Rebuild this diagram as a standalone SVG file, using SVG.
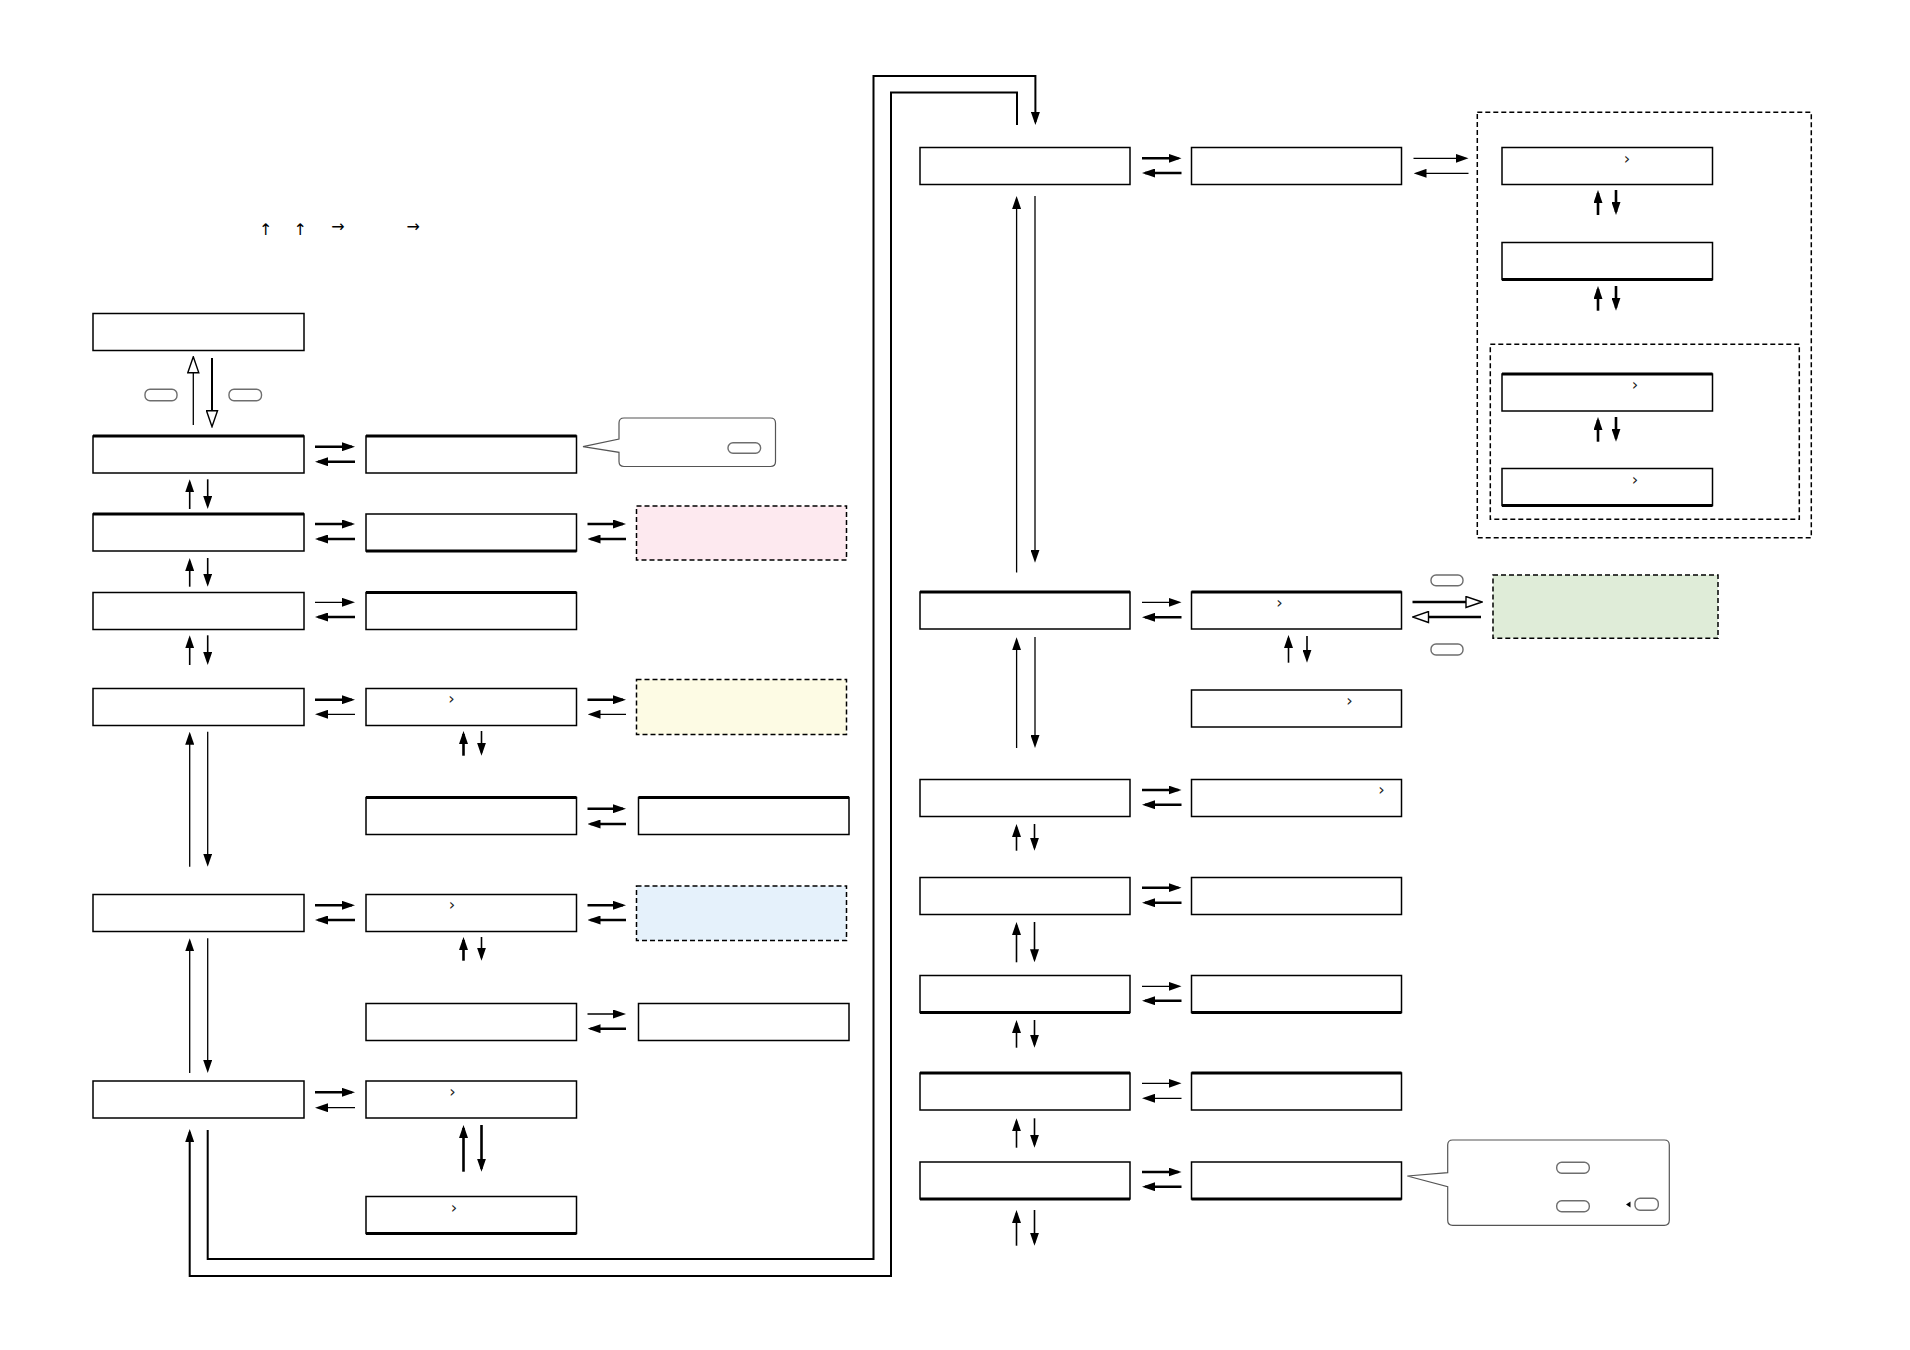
<svg xmlns="http://www.w3.org/2000/svg" width="1910" height="1350" viewBox="0 0 1910 1350">
<style>
.box{fill:#fff;stroke:#000;stroke-width:1.5}
.edge{stroke:#000;stroke-width:3}
.dash{stroke:#000;stroke-width:1.5;stroke-dasharray:5 3}
.k{stroke:#000;stroke-width:2.6;fill:none;marker-end:url(#ah)}
.t{stroke:#000;stroke-width:1.3;fill:none;marker-end:url(#ah)}
.m{stroke:#000;stroke-width:1.6;fill:none;marker-end:url(#ah)}
.loop{stroke:#000;stroke-width:2;fill:none}
.pill{fill:#fff;stroke:#6e6e6e;stroke-width:1.4}
.call{fill:#fff;stroke:#555;stroke-width:1.2}
.chev{font-family:"DejaVu Sans",sans-serif;font-size:16px;fill:#222;text-anchor:middle}
.sym{font-family:"DejaVu Sans",sans-serif;font-size:16px;fill:#000;text-anchor:middle}
</style>
<defs>
<marker id="ah" viewBox="0 0 13 9" refX="10" refY="4.5" markerWidth="13" markerHeight="9" markerUnits="userSpaceOnUse" orient="auto"><path d="M0,0L13,4.5L0,9z" fill="#000"/></marker>
<marker id="hh" viewBox="-1 -1 18 13" refX="1" refY="5.5" markerWidth="18" markerHeight="13" markerUnits="userSpaceOnUse" orient="auto"><path d="M0,0L16,5.5L0,11z" fill="#fff" stroke="#000" stroke-width="1.4"/></marker>
</defs>
<rect width="1910" height="1350" fill="#fff"/>

<g id="legend">
<text class="sym" x="265.7" y="235">↑</text>
<text class="sym" x="300.3" y="235">↑</text>
<text class="sym" x="338" y="232">→</text>
<text class="sym" x="413.3" y="232">→</text>
</g>

<!-- left column -->
<g id="T"><rect class="box" x="93" y="313.5" width="211" height="37"/></g>
<g id="A"><rect class="box" x="93" y="436" width="211" height="37"/><line class="edge" x1="93" y1="436" x2="304" y2="436"/></g>
<g id="B"><rect class="box" x="93" y="514" width="211" height="37"/><line class="edge" x1="93" y1="514" x2="304" y2="514"/></g>
<g id="C"><rect class="box" x="93" y="592.5" width="211" height="37"/></g>
<g id="D"><rect class="box" x="93" y="688.5" width="211" height="37"/></g>
<g id="E"><rect class="box" x="93" y="894.5" width="211" height="37"/></g>
<g id="F"><rect class="box" x="93" y="1081" width="211" height="37"/></g>

<!-- second column -->
<g id="A2"><rect class="box" x="366" y="436" width="210.5" height="37"/><line class="edge" x1="366" y1="436" x2="576.5" y2="436"/></g>
<g id="B2"><rect class="box" x="366" y="514" width="210.5" height="37"/><line class="edge" x1="366" y1="551" x2="576.5" y2="551"/></g>
<g id="C2"><rect class="box" x="366" y="592.5" width="210.5" height="37"/><line class="edge" x1="366" y1="592.5" x2="576.5" y2="592.5"/></g>
<g id="D2"><rect class="box" x="366" y="688.5" width="210.5" height="37"/><text class="chev" x="451.5" y="704">›</text></g>
<g id="D3"><rect class="box" x="366" y="797.5" width="210.5" height="37"/><line class="edge" x1="366" y1="797.5" x2="576.5" y2="797.5"/></g>
<g id="E2"><rect class="box" x="366" y="894.5" width="210.5" height="37"/><text class="chev" x="452" y="910">›</text></g>
<g id="E3"><rect class="box" x="366" y="1003.5" width="210.5" height="37"/></g>
<g id="F2"><rect class="box" x="366" y="1081" width="210.5" height="37"/><text class="chev" x="452.5" y="1097">›</text></g>
<g id="F3"><rect class="box" x="366" y="1196.5" width="210.5" height="37"/><line class="edge" x1="366" y1="1233.5" x2="576.5" y2="1233.5"/><text class="chev" x="454" y="1212.5">›</text></g>

<!-- third column -->
<g id="callout1">
<path class="call" d="M624,418H770.5Q775.5,418 775.5,423V461.5Q775.5,466.5 770.5,466.5H624Q619,466.5 619,461.5V452.3L583,446.7L619,439V423Q619,418 624,418Z"/>
<rect class="pill" x="728" y="442.7" width="32.6" height="10.6" rx="5"/>
</g>
<g id="pink"><rect class="dash" x="636.5" y="506" width="210" height="54" fill="#fde9ef"/></g>
<g id="yellow"><rect class="dash" x="636.5" y="679.5" width="210" height="55" fill="#fdfbe4"/></g>
<g id="D4"><rect class="box" x="638.5" y="797.5" width="210.5" height="37"/><line class="edge" x1="638.5" y1="797.5" x2="849" y2="797.5"/></g>
<g id="blue"><rect class="dash" x="636.5" y="886" width="210" height="54.5" fill="#e5f1fb"/></g>
<g id="E4"><rect class="box" x="638.5" y="1003.5" width="210.5" height="37"/></g>

<!-- right main column -->
<g id="R1"><rect class="box" x="920" y="147.5" width="210" height="37"/></g>
<g id="R3"><rect class="box" x="920" y="592" width="210" height="37"/><line class="edge" x1="920" y1="592" x2="1130" y2="592"/></g>
<g id="R6"><rect class="box" x="920" y="779.5" width="210" height="37"/></g>
<g id="R8"><rect class="box" x="920" y="877.5" width="210" height="37"/></g>
<g id="R9"><rect class="box" x="920" y="975.5" width="210" height="37"/><line class="edge" x1="920" y1="1012.5" x2="1130" y2="1012.5"/></g>
<g id="R11"><rect class="box" x="920" y="1073" width="210" height="37"/><line class="edge" x1="920" y1="1073" x2="1130" y2="1073"/></g>
<g id="R13"><rect class="box" x="920" y="1162" width="210" height="37"/><line class="edge" x1="920" y1="1199" x2="1130" y2="1199"/></g>

<g id="R2"><rect class="box" x="1191.5" y="147.5" width="210" height="37"/></g>
<g id="R4"><rect class="box" x="1191.5" y="592" width="210" height="37"/><line class="edge" x1="1191.5" y1="592" x2="1401.5" y2="592"/><text class="chev" x="1279.5" y="608">›</text></g>
<g id="R5"><rect class="box" x="1191.5" y="690" width="210" height="37"/><text class="chev" x="1349.5" y="705.5">›</text></g>
<g id="R7"><rect class="box" x="1191.5" y="779.5" width="210" height="37"/><text class="chev" x="1381.5" y="795">›</text></g>
<g id="R8b"><rect class="box" x="1191.5" y="877.5" width="210" height="37"/></g>
<g id="R10"><rect class="box" x="1191.5" y="975.5" width="210" height="37"/><line class="edge" x1="1191.5" y1="1012.5" x2="1401.5" y2="1012.5"/></g>
<g id="R12"><rect class="box" x="1191.5" y="1073" width="210" height="37"/><line class="edge" x1="1191.5" y1="1073" x2="1401.5" y2="1073"/></g>
<g id="R14"><rect class="box" x="1191.5" y="1162" width="210" height="37"/><line class="edge" x1="1191.5" y1="1199" x2="1401.5" y2="1199"/></g>

<g id="green"><rect class="dash" x="1493" y="575" width="225" height="63.3" fill="#dfecd8"/></g>
<g id="pills-green">
<rect class="pill" x="1431" y="575" width="32" height="10.7" rx="5"/>
<rect class="pill" x="1431" y="644" width="32" height="11" rx="5"/>
</g>

<g id="callout2">
<path class="call" d="M1452.7,1140H1664.3Q1669.3,1140 1669.3,1145V1220.3Q1669.3,1225.3 1664.3,1225.3H1452.7Q1447.7,1225.3 1447.7,1220.3V1186.7L1407.3,1176L1447.7,1172.7V1145Q1447.7,1140 1452.7,1140Z"/>
<rect class="pill" x="1556.7" y="1162.3" width="32.6" height="11" rx="5"/>
<rect class="pill" x="1556.7" y="1200.7" width="32.6" height="11" rx="5"/>
<polygon points="1626,1204.5 1630.5,1201.5 1630.5,1207.5" fill="#000"/>
<rect class="pill" x="1635" y="1198.3" width="23.3" height="12" rx="5"/>
</g>

<!-- group boxes -->
<g id="outer-group"><rect class="dash" x="1477.3" y="112.3" width="334" height="425.4" fill="none" stroke-dasharray="6 3"/></g>
<g id="inner-group"><rect class="dash" x="1490.3" y="344.3" width="309" height="175" fill="none" stroke-width="1.3"/></g>
<g id="G1"><rect class="box" x="1502" y="147.5" width="210.5" height="37"/><text class="chev" x="1627" y="164">›</text></g>
<g id="G2"><rect class="box" x="1502" y="242.5" width="210.5" height="37"/><line class="edge" x1="1502" y1="279.5" x2="1712.5" y2="279.5"/></g>
<g id="G3"><rect class="box" x="1502" y="374" width="210.5" height="37"/><line class="edge" x1="1502" y1="374" x2="1712.5" y2="374"/><text class="chev" x="1635" y="390">›</text></g>
<g id="G4"><rect class="box" x="1502" y="468.5" width="210.5" height="37"/><line class="edge" x1="1502" y1="505.5" x2="1712.5" y2="505.5"/><text class="chev" x="1635" y="485">›</text></g>

<g id="keys-top">
<rect class="pill" x="145" y="389.3" width="32" height="11.4" rx="5"/>
<rect class="pill" x="229" y="389.3" width="32.5" height="11.4" rx="5"/>
</g>

<g id="connectors">
<!-- top hollow -->
<line x1="193.3" y1="425" x2="193.3" y2="371.7" stroke="#000" stroke-width="1.3" marker-end="url(#hh)"/>
<line x1="212" y1="358" x2="212" y2="411.7" stroke="#000" stroke-width="2" marker-end="url(#hh)"/>

<!-- left column horizontal -->
<line class="k" x1="315" y1="446.7" x2="352" y2="446.7"/><line class="k" x1="355" y1="461.7" x2="318" y2="461.7"/>
<line class="k" x1="315" y1="524" x2="352" y2="524"/><line class="k" x1="355" y1="539" x2="318" y2="539"/>
<line class="t" x1="315" y1="602.3" x2="352" y2="602.3"/><line class="k" x1="355" y1="617" x2="318" y2="617"/>
<line class="k" x1="315" y1="699.7" x2="352" y2="699.7"/><line class="t" x1="355" y1="714.3" x2="318" y2="714.3"/>
<line class="k" x1="315" y1="905.3" x2="352" y2="905.3"/><line class="k" x1="355" y1="920" x2="318" y2="920"/>
<line class="k" x1="315" y1="1092.3" x2="352" y2="1092.3"/><line class="t" x1="355" y1="1107.7" x2="318" y2="1107.7"/>

<!-- col2 to col3 -->
<line class="k" x1="587.5" y1="524" x2="623" y2="524"/><line class="k" x1="626" y1="539" x2="590.5" y2="539"/>
<line class="k" x1="587.5" y1="699.7" x2="623" y2="699.7"/><line class="t" x1="626" y1="714.3" x2="590.5" y2="714.3"/>
<line class="k" x1="587.5" y1="808.7" x2="623" y2="808.7"/><line class="k" x1="626" y1="824" x2="590.5" y2="824"/>
<line class="k" x1="587.5" y1="905.3" x2="623" y2="905.3"/><line class="k" x1="626" y1="920" x2="590.5" y2="920"/>
<line class="t" x1="587.5" y1="1014" x2="623" y2="1014"/><line class="k" x1="626" y1="1028.7" x2="590.5" y2="1028.7"/>

<!-- left column vertical -->
<line class="m" x1="189.7" y1="509" x2="189.7" y2="482.3"/><line class="m" x1="207.7" y1="479.3" x2="207.7" y2="506"/>
<line class="m" x1="189.7" y1="586.7" x2="189.7" y2="561"/><line class="m" x1="207.7" y1="558" x2="207.7" y2="583.7"/>
<line class="m" x1="189.7" y1="665" x2="189.7" y2="638.3"/><line class="m" x1="207.7" y1="635.3" x2="207.7" y2="662"/>
<line class="t" x1="189.7" y1="866.7" x2="189.7" y2="734.7"/><line class="t" x1="207.7" y1="731.7" x2="207.7" y2="863.7"/>
<line class="t" x1="189.7" y1="1073" x2="189.7" y2="941.3"/><line class="t" x1="207.7" y1="938.3" x2="207.7" y2="1070"/>

<!-- col2 vertical -->
<line class="k" x1="463.5" y1="755.7" x2="463.5" y2="734"/><line class="m" x1="481.5" y1="731" x2="481.5" y2="752.7"/>
<line class="k" x1="463.5" y1="960.7" x2="463.5" y2="940"/><line class="m" x1="481.5" y1="937" x2="481.5" y2="957.7"/>
<line class="k" x1="463.5" y1="1171.7" x2="463.5" y2="1128"/><line class="k" x1="481.5" y1="1125" x2="481.5" y2="1168.7"/>

<!-- loops -->
<path class="loop" d="M1017,125V92.6H891V1276H189.7V1132" marker-end="url(#ah)"/>
<path class="loop" d="M207.7,1130V1259H873.5V76H1035.4V122" stroke-width="1.6" marker-end="url(#ah)"/>

<!-- right side horizontal -->
<line class="k" x1="1142" y1="158.3" x2="1178.5" y2="158.3"/><line class="k" x1="1181.5" y1="173" x2="1145" y2="173"/>
<line class="t" x1="1413.5" y1="158.3" x2="1465.5" y2="158.3"/><line class="t" x1="1468.5" y1="173.3" x2="1416.5" y2="173.3"/>
<line class="t" x1="1142" y1="602.3" x2="1178.5" y2="602.3"/><line class="k" x1="1181.5" y1="617.3" x2="1145" y2="617.3"/>
<line class="k" x1="1142" y1="790" x2="1178.5" y2="790"/><line class="k" x1="1181.5" y1="804.7" x2="1145" y2="804.7"/>
<line class="k" x1="1142" y1="887.7" x2="1178.5" y2="887.7"/><line class="k" x1="1181.5" y1="902.7" x2="1145" y2="902.7"/>
<line class="t" x1="1142" y1="986.3" x2="1178.5" y2="986.3"/><line class="k" x1="1181.5" y1="1000.7" x2="1145" y2="1000.7"/>
<line class="t" x1="1142" y1="1083.3" x2="1178.5" y2="1083.3"/><line class="t" x1="1181.5" y1="1098.3" x2="1145" y2="1098.3"/>
<line class="k" x1="1142" y1="1172" x2="1178.5" y2="1172"/><line class="k" x1="1181.5" y1="1186.7" x2="1145" y2="1186.7"/>

<!-- hollow to green -->
<line x1="1412.5" y1="602" x2="1467" y2="602" stroke="#000" stroke-width="2.4" marker-end="url(#hh)"/>
<line x1="1481" y1="617" x2="1427.5" y2="617" stroke="#000" stroke-width="2.4" marker-end="url(#hh)"/>

<!-- right vertical -->
<line class="t" x1="1016.6" y1="572.5" x2="1016.6" y2="199"/><line class="t" x1="1035" y1="196" x2="1035" y2="559.8"/>
<line class="t" x1="1016.6" y1="748" x2="1016.6" y2="640.3"/><line class="t" x1="1035" y1="637" x2="1035" y2="745"/>
<line class="m" x1="1016.5" y1="850.7" x2="1016.5" y2="827"/><line class="m" x1="1034.5" y1="824" x2="1034.5" y2="847.7"/>
<line class="m" x1="1016.5" y1="962.3" x2="1016.5" y2="925"/><line class="m" x1="1034.5" y1="922" x2="1034.5" y2="959.3"/>
<line class="m" x1="1016.5" y1="1047.7" x2="1016.5" y2="1023"/><line class="m" x1="1034.5" y1="1020" x2="1034.5" y2="1044.7"/>
<line class="m" x1="1016.5" y1="1147.7" x2="1016.5" y2="1121.3"/><line class="m" x1="1034.5" y1="1118.3" x2="1034.5" y2="1144.7"/>
<line class="m" x1="1016.5" y1="1245.7" x2="1016.5" y2="1213"/><line class="m" x1="1034.5" y1="1210" x2="1034.5" y2="1242.7"/>
<line class="m" x1="1288.5" y1="662.7" x2="1288.5" y2="638"/><line class="m" x1="1307" y1="636" x2="1307" y2="659.7"/>

<!-- G vertical -->
<line class="k" x1="1598" y1="215" x2="1598" y2="193"/><line class="k" x1="1616" y1="190" x2="1616" y2="212"/>
<line class="k" x1="1598" y1="310.7" x2="1598" y2="289"/><line class="k" x1="1616" y1="286" x2="1616" y2="307.7"/>
<line class="k" x1="1598" y1="441.7" x2="1598" y2="420"/><line class="k" x1="1616" y1="417" x2="1616" y2="438.7"/>
</g>
</svg>
